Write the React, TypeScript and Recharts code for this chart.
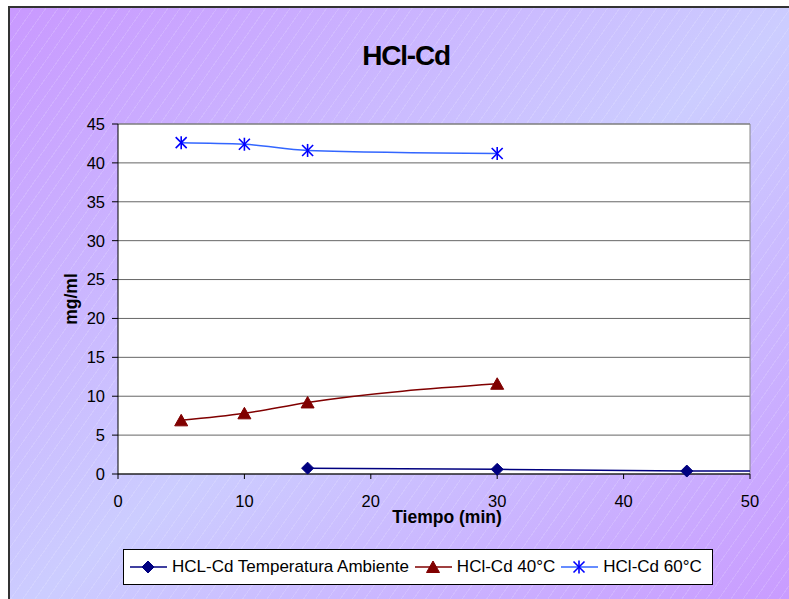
import React from 'react';
import { LineChart, Line, XAxis, YAxis, CartesianGrid, ReferenceLine } from 'recharts';

const title = 'HCl-Cd';
const xLabel = 'Tiempo (min)';
const yLabel = 'mg/ml';
const xTicks = [0, 10, 20, 30, 40, 50];
const yTicks = [0, 5, 10, 15, 20, 25, 30, 35, 40, 45];

const seriesNames = ['HCL-Cd Temperatura Ambiente', 'HCl-Cd 40°C', 'HCl-Cd 60°C'];

const ambienteX = [15, 30, 45, 50.6];
const ambienteY = [0.75, 0.6, 0.38, 0.38];
const c40X = [5, 10, 15, 30];
const c40Y = [6.9, 7.8, 9.2, 11.6];
const c60X = [5, 10, 15, 30];
const c60Y = [42.6, 42.4, 41.6, 41.2];

const toData = (xs: number[], ys: number[]) => xs.map((x, i) => ({ x, y: ys[i] }));
const ambienteData = toData(ambienteX, ambienteY);
const c40Data = toData(c40X, c40Y);
const c60Data = toData(c60X, c60Y);

const FONT = '"Liberation Sans", Arial, sans-serif';
const NAVY = '#000080';
const DARKRED = '#800000';
const BLUE_LINE = '#3366ff';
const BLUE_MARK = '#0000ff';

const Diamond = ({ cx, cy }: any) => (
  <polygon points={`${cx},${cy - 6} ${cx + 6},${cy} ${cx},${cy + 6} ${cx - 6},${cy}`} fill={NAVY} stroke={NAVY} />
);
const Triangle = ({ cx, cy }: any) => (
  <polygon points={`${cx},${cy - 6} ${cx + 6.5},${cy + 5.5} ${cx - 6.5},${cy + 5.5}`} fill={DARKRED} stroke={DARKRED} />
);
const Star = ({ cx, cy }: any) => (
  <g stroke={BLUE_MARK} strokeWidth={1.6}>
    <line x1={cx} y1={cy - 6.5} x2={cx} y2={cy + 6.5} />
    <line x1={cx - 5.5} y1={cy - 5.5} x2={cx + 5.5} y2={cy + 5.5} />
    <line x1={cx - 5.5} y1={cy + 5.5} x2={cx + 5.5} y2={cy - 5.5} />
  </g>
);

const dotAmb = (p: any) =>
  p.payload && p.payload.x <= 50 ? <Diamond key={`a${p.index}`} cx={p.cx} cy={p.cy} /> : <g key={`a${p.index}`} />;
const dot40 = (p: any) => <Triangle key={`b${p.index}`} cx={p.cx} cy={p.cy} />;
const dot60 = (p: any) => <Star key={`c${p.index}`} cx={p.cx} cy={p.cy} />;

const LegendIcon = ({ kind, color }: { kind: number; color: string }) => (
  <svg width={37} height={16} style={{ display: 'block' }}>
    <line x1={0} y1={8} x2={37} y2={8} stroke={color} strokeWidth={1.5} />
    {kind === 0 && <Diamond cx={18} cy={8} />}
    {kind === 1 && <Triangle cx={18} cy={8} />}
    {kind === 2 && <Star cx={18} cy={8} />}
  </svg>
);

export default function App() {
  const legendColors = [NAVY, DARKRED, BLUE_LINE];
  return (
    <div style={{ position: 'absolute', left: 0, top: 0, width: 789, height: 599, background: '#fff', overflow: 'hidden', fontFamily: FONT }}>
      <div
        style={{
          position: 'absolute',
          left: 8,
          top: 6,
          width: 800,
          height: 610,
          borderLeft: '2px solid #333',
          borderTop: '2px solid #333',
          background:
            'repeating-linear-gradient(125deg, rgba(255,255,255,0) 0px, rgba(255,255,255,0) 9px, rgba(255,255,255,0.14) 9px, rgba(255,255,255,0.14) 10px), linear-gradient(to bottom right, #c999ff 0%, #cccdff 50%, #c999ff 100%)',
        }}
      />
      <div style={{ position: 'absolute', left: 0, top: 0 }}>
        <LineChart width={789} height={599} margin={{ top: 124, right: 39, left: 58, bottom: 95 }}>
          <CartesianGrid horizontal vertical={false} stroke="#666" fill="#ffffff" fillOpacity={1} />
          <XAxis
            dataKey="x"
            type="number"
            domain={[0, 50]}
            allowDataOverflow
            ticks={xTicks}
            height={30}
            tickSize={5}
            tickMargin={16}
            stroke="#000"
            tick={{ fill: '#000', fontSize: 16.5, fontFamily: FONT }}
            tickLine={{ stroke: '#000' }}
            label={{
              content: () => (
                <text x={447} y={523} textAnchor="middle" fontSize={17.5} fontWeight="bold" fontFamily={FONT} fill="#000">
                  {xLabel}
                </text>
              ),
            }}
          />
          <YAxis
            type="number"
            domain={[0, 45]}
            ticks={yTicks}
            width={60}
            tickSize={6}
            tickMargin={7}
            stroke="#000"
            tick={{ fill: '#000', fontSize: 16.5, fontFamily: FONT }}
            label={{
              content: () => (
                <text
                  x={77}
                  y={299}
                  transform="rotate(-90 77 299)"
                  textAnchor="middle"
                  fontSize={17.5}
                  fontWeight="bold"
                  fontFamily={FONT}
                  fill="#000"
                >
                  {yLabel}
                </text>
              ),
            }}
          />
          <ReferenceLine x={50} stroke="#888" strokeWidth={1} />
          <ReferenceLine y={45} stroke="#888" strokeWidth={1} />
          <Line data={ambienteData} dataKey="y" name={seriesNames[0]} type="monotone" stroke={NAVY} strokeWidth={1.5} dot={dotAmb} isAnimationActive={false} />
          <Line data={c40Data} dataKey="y" name={seriesNames[1]} type="monotone" stroke={DARKRED} strokeWidth={1.5} dot={dot40} isAnimationActive={false} />
          <Line data={c60Data} dataKey="y" name={seriesNames[2]} type="monotone" stroke={BLUE_LINE} strokeWidth={1.5} dot={dot60} isAnimationActive={false} />
        </LineChart>
      </div>
      <svg width={789} height={100} style={{ position: 'absolute', left: 0, top: 0, pointerEvents: 'none' }}>
        <text x={406} y={65} textAnchor="middle" fontSize={28} fontWeight="bold" fontFamily={FONT} letterSpacing={-1.2} fill="#000">
          {title}
        </text>
      </svg>
      <div
        style={{
          position: 'absolute',
          left: 123,
          top: 549,
          width: 590,
          height: 36,
          background: '#fff',
          border: '1px solid #000',
          boxSizing: 'border-box',
          display: 'flex',
          alignItems: 'center',
          paddingLeft: 6,
          fontSize: 17,
          color: '#000',
          whiteSpace: 'nowrap',
        }}
      >
        {seriesNames.map((n, i) => (
          <div key={n} style={{ display: 'flex', alignItems: 'center', marginRight: 6 }}>
            <LegendIcon kind={i} color={legendColors[i]} />
            <span style={{ marginLeft: 5 }}>{n}</span>
          </div>
        ))}
      </div>
    </div>
  );
}
